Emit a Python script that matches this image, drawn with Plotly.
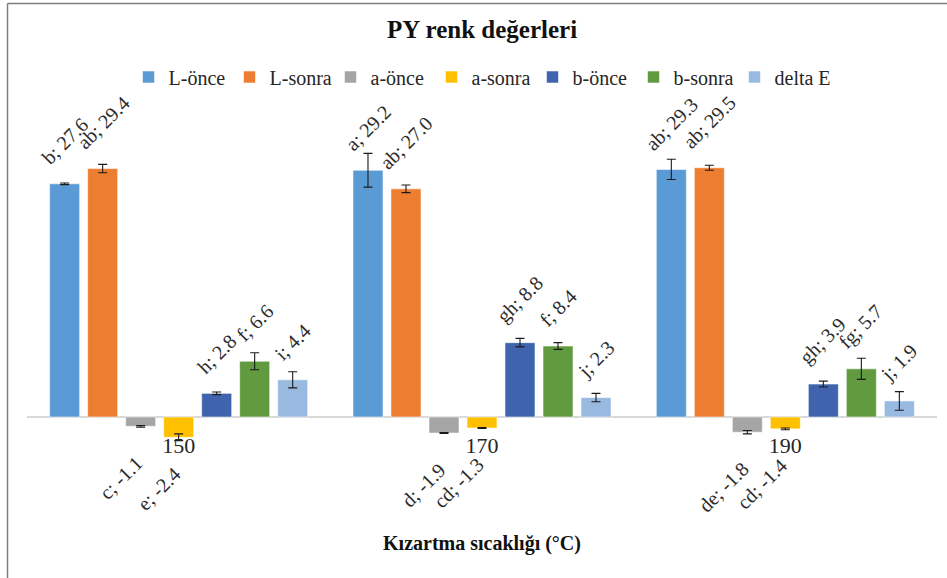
import plotly.graph_objects as go

# ---- data ----
categories = ["150", "170", "190"]
series_names = ["L-önce", "L-sonra", "a-önce", "a-sonra", "b-önce", "b-sonra", "delta E"]

l_once = [27.6, 29.2, 29.3]
l_sonra = [29.4, 27.0, 29.5]
a_once = [-1.1, -1.9, -1.8]
a_sonra = [-2.4, -1.3, -1.4]
b_once = [2.8, 8.8, 3.9]
b_sonra = [6.6, 8.4, 5.7]
delta_e = [4.4, 2.3, 1.9]

l_once_err = [0.1, 2.0, 1.2]
l_sonra_err = [0.5, 0.45, 0.3]
a_once_err = [0.1, 0.05, 0.2]
a_sonra_err = [0.4, 0.05, 0.1]
b_once_err = [0.15, 0.5, 0.35]
b_sonra_err = [1.0, 0.4, 1.25]
delta_e_err = [0.95, 0.5, 1.1]

l_once_let = ["b", "a", "ab"]
l_sonra_let = ["ab", "ab", "ab"]
a_once_let = ["c", "d", "de"]
a_sonra_let = ["e", "cd", "cd"]
b_once_let = ["h", "gh", "gh"]
b_sonra_let = ["f", "f", "fg"]
delta_e_let = ["i", "j", "j"]

# ---- style ----
colors = ["#5B9BD5", "#ED7D31", "#A5A5A5", "#FFC000", "#3F64AD", "#629A3F", "#98B9E0"]
FONT = '"Liberation Serif", "Times New Roman", serif'
W, H = 947, 578
ML, MR, MT, MB = 27, 10, 100, 98
PX_PER_UNIT = 8.45
ZERO_PX = 417
AXIS_PX = 430          # where the category labels hang from
BARGAP, GROUPGAP = 0.123, 0.21

values = [l_once, l_sonra, a_once, a_sonra, b_once, b_sonra, delta_e]
errors = [l_once_err, l_sonra_err, a_once_err, a_sonra_err, b_once_err, b_sonra_err, delta_e_err]
letters = [l_once_let, l_sonra_let, a_once_let, a_sonra_let, b_once_let, b_sonra_let, delta_e_let]

fig = go.Figure()
for name, vals, errs, col in zip(series_names, values, errors, colors):
    fig.add_trace(go.Bar(
        name=name, x=categories, y=vals,
        marker=dict(color=col, line=dict(color="rgba(255,255,255,0.55)", width=1)),
        error_y=dict(type="data", array=errs, visible=True, color="#1a1a1a", thickness=1.1, width=4.5),
        cliponaxis=False,
    ))

# data labels (letter; value), rotated like the original
n = len(series_names)
slot = (1 - BARGAP) / n
lab_font = dict(family=FONT, size=20, color="#2b2b2b")
annotations = []
for i in range(n):
    for k, cat in enumerate(categories):
        v = values[i][k]
        txt = f"{letters[i][k]}; {v:.1f}"
        xpos = k + (i - (n - 1) / 2) * slot
        if v >= 0:
            annotations.append(dict(x=xpos, y=v, xref="x", yref="y", text=txt, showarrow=False,
                                    textangle=-45, xanchor="center", yanchor="bottom", yshift=14,
                                    borderpad=0, font=lab_font))
        else:
            annotations.append(dict(x=xpos, y=v, xref="x", yref="y", text=txt, showarrow=False,
                                    textangle=-45, xanchor="right", yanchor="top", yshift=-24, xshift=7,
                                    borderpad=0, font=lab_font))

plot_h = H - MT - MB
plot_w = W - ML - MR
y_top = (ZERO_PX - MT) / PX_PER_UNIT
y_bot = -(H - MB - ZERO_PX) / PX_PER_UNIT
axis_pos = (H - MB - AXIS_PX) / plot_h

# chart-area border (left and top edges visible in the original crop)
bx = (7.5 - ML) / plot_w
by_top = (H - MB - 3.5) / plot_h
by_bot = (H - MB - H) / plot_h
bx_right = (W - ML) / plot_w
shapes = [
    dict(type="line", xref="paper", yref="paper", x0=bx, x1=bx, y0=by_bot, y1=by_top,
         line=dict(color="#7f7f7f", width=1.5)),
    dict(type="line", xref="paper", yref="paper", x0=bx, x1=bx_right, y0=by_top, y1=by_top,
         line=dict(color="#7f7f7f", width=1.5)),
]

fig.update_layout(
    width=W, height=H,
    margin=dict(l=ML, r=MR, t=MT, b=MB, autoexpand=False),
    paper_bgcolor="white", plot_bgcolor="white",
    barmode="group", bargap=BARGAP, bargroupgap=GROUPGAP,
    font=dict(family=FONT, color="#262626"),
    title=dict(text="<b>PY renk değerleri</b>", x=0.5, xref="paper", xanchor="center",
               y=1 - 29 / H, yanchor="middle", font=dict(family=FONT, size=25, color="#111111")),
    legend=dict(orientation="h", x=0.5, xanchor="center", y=1 + (MT - 77) / plot_h, yanchor="middle",
                font=dict(family=FONT, size=20, color="#262626"), itemwidth=30, entrywidth=56,
                bgcolor="rgba(0,0,0,0)", traceorder="normal"),
    xaxis=dict(type="category", anchor="free", position=axis_pos,
               showgrid=False, showline=False, ticks="", zeroline=False,
               tickfont=dict(family=FONT, size=22, color="#262626"),
               title=dict(text="<b>Kızartma sıcaklığı (°C)</b>", standoff=78,
                          font=dict(family=FONT, size=20, color="#111111"))),
    yaxis=dict(range=[y_bot, y_top], showgrid=False, showticklabels=False, ticks="",
               showline=False, zeroline=True, zerolinecolor="#D9D9D9", zerolinewidth=2),
    annotations=annotations,
    shapes=shapes,
)

fig.write_html("out.html", config={"displayModeBar": False},
               post_script="document.body.style.margin='0';")
